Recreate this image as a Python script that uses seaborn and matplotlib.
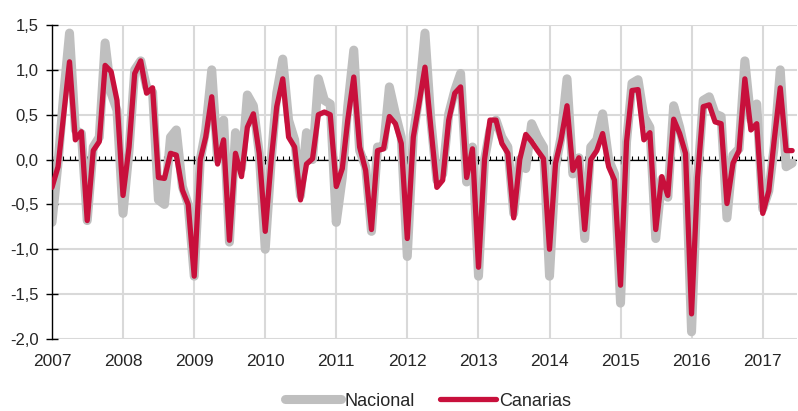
import pandas as pd
import numpy as np
import matplotlib
matplotlib.use("Agg")
import matplotlib.pyplot as plt
import matplotlib.dates as mdates
from matplotlib.ticker import FuncFormatter
import seaborn as sns

# monthly values, Jan 2007 - Jun 2017
nacional = [
    -0.70, -0.04, 0.70, 1.41, 0.33, 0.29, -0.68, 0.14, 0.25, 1.30, 0.74, 0.55,
    -0.60, 0.10, 1.00, 1.10, 0.81, 0.75, -0.45, -0.50, 0.25, 0.33, -0.30, -0.50,
    -1.30, 0.00, 0.33, 1.00, 0.00, 0.44, -0.92, 0.30, -0.10, 0.72, 0.60, 0.07,
    -1.00, 0.00, 0.74, 1.12, 0.44, 0.22, -0.40, 0.30, 0.00, 0.90, 0.66, 0.62,
    -0.70, -0.20, 0.59, 1.22, 0.10, -0.08, -0.80, 0.14, 0.14, 0.81, 0.51, 0.25,
    -1.08, 0.28, 0.70, 1.41, 0.44, -0.23, -0.16, 0.51, 0.77, 0.96, -0.25, 0.14,
    -1.30, 0.00, 0.33, 0.44, 0.25, 0.14, -0.60, 0.00, -0.10, 0.40, 0.25, 0.14,
    -1.30, -0.08, 0.25, 0.90, -0.16, 0.02, -0.88, 0.14, 0.22, 0.51, 0.00, -0.16,
    -1.60, 0.20, 0.85, 0.89, 0.48, 0.36, -0.88, -0.22, -0.42, 0.60, 0.36, 0.05,
    -1.92, -0.20, 0.66, 0.70, 0.51, 0.48, -0.65, 0.05, 0.12, 1.10, 0.44, 0.62,
    -0.55, -0.35, 0.15, 1.00, -0.08, -0.04,
]
canarias = [
    -0.31, -0.08, 0.48, 1.09, 0.22, 0.31, -0.68, 0.10, 0.20, 1.05, 0.98, 0.66,
    -0.40, 0.14, 0.96, 1.10, 0.74, 0.80, -0.20, -0.21, 0.07, 0.05, -0.34, -0.50,
    -1.30, 0.00, 0.25, 0.70, -0.05, 0.22, -0.90, 0.07, -0.19, 0.36, 0.51, 0.07,
    -0.80, 0.00, 0.59, 0.90, 0.25, 0.14, -0.45, -0.05, 0.01, 0.50, 0.53, 0.50,
    -0.30, -0.10, 0.44, 0.92, 0.14, -0.12, -0.78, 0.10, 0.12, 0.48, 0.40, 0.18,
    -0.88, 0.25, 0.62, 1.03, 0.36, -0.31, -0.23, 0.44, 0.74, 0.81, -0.20, 0.12,
    -1.20, 0.00, 0.44, 0.44, 0.18, 0.07, -0.65, 0.00, 0.28, 0.20, 0.10, 0.01,
    -1.00, -0.04, 0.22, 0.60, -0.12, 0.02, -0.78, 0.00, 0.10, 0.29, -0.08, -0.23,
    -1.40, 0.20, 0.77, 0.78, 0.22, 0.30, -0.78, -0.19, -0.40, 0.45, 0.29, 0.07,
    -1.72, -0.20, 0.59, 0.61, 0.42, 0.40, -0.49, -0.04, 0.10, 0.90, 0.33, 0.40,
    -0.60, -0.35, 0.22, 0.80, 0.10, 0.10,
]
fechas = pd.date_range("2007-01-01", periods=len(canarias), freq="MS")
years = list(range(2007, 2018))

df = pd.DataFrame({"fecha": fechas, "Nacional": nacional, "Canarias": canarias})

sns.set_theme(style="white")
plt.rcParams["font.family"] = ["Liberation Sans", "DejaVu Sans"]

fig = plt.figure(figsize=(7.98, 4.11), dpi=100)
ax = fig.add_axes([52 / 798, 72 / 411, 745 / 798, 314 / 411])

grid_c = "#d9d9d9"
for v in np.arange(-2.0, 1.51, 0.5):
    ax.axhline(v, color=grid_c, lw=1.5, zorder=0)
for y in years:
    ax.axvline(pd.Timestamp(f"{y}-01-01"), color=grid_c, lw=1.5, zorder=0)

# zero axis with month / year ticks
ax.axhline(0, color="black", lw=0.9, zorder=1)
ax.vlines(fechas, 0, 0.035, color="black", lw=0.8, zorder=1)
ax.vlines([pd.Timestamp(f"{y}-01-01") for y in years], -0.045, 0.045,
          color="black", lw=0.9, zorder=1)

sns.lineplot(data=df, x="fecha", y="Nacional", ax=ax, color="#bfbfbf",
             lw=6.5, label="Nacional", zorder=2,
             solid_joinstyle="round", solid_capstyle="round")
sns.lineplot(data=df, x="fecha", y="Canarias", ax=ax, color="#c8103c",
             lw=3.8, label="Canarias", zorder=3,
             solid_joinstyle="round", solid_capstyle="round")

ax.set_ylim(-2.0, 1.5)
ax.set_xlim(pd.Timestamp("2007-01-01"), pd.Timestamp("2017-06-26"))
ax.set_yticks(np.arange(-2.0, 1.51, 0.5))
ax.yaxis.set_major_formatter(FuncFormatter(lambda v, p: f"{v:.1f}".replace(".", ",")))
ax.xaxis.set_major_locator(mdates.YearLocator())
ax.xaxis.set_major_formatter(mdates.DateFormatter("%Y"))
ax.set_xlabel("")
ax.set_ylabel("")

for s in ["top", "right", "bottom"]:
    ax.spines[s].set_visible(False)
ax.spines["left"].set_color("black")
ax.spines["left"].set_linewidth(1.0)
ax.tick_params(axis="y", direction="inout", length=9, width=1.0, color="black",
               labelsize=12, pad=5, left=True)
ax.tick_params(axis="x", length=0, labelsize=12.5, pad=11)

ax.legend_.remove()
h, l = ax.get_legend_handles_labels()
fig.legend(h, l, loc="center", bbox_to_anchor=(428 / 798, 1 - 401 / 411),
           ncol=2, frameon=False, fontsize=13, handlelength=3.1,
           handletextpad=0.2, columnspacing=1.4)

fig.savefig("out.png", dpi=100)
